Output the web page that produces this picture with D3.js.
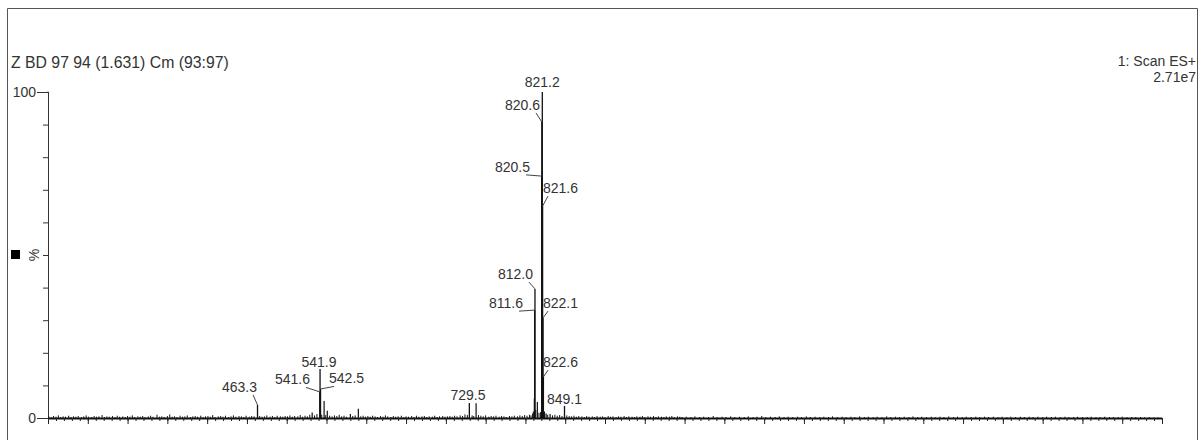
<!DOCTYPE html>
<html><head><meta charset="utf-8">
<script src="https://cdn.jsdelivr.net/npm/d3@7"></script>
<style>body{margin:0;background:#fff}svg{display:block}text{font-family:Arial,"Liberation Sans",sans-serif;fill:#333}</style>
</head><body><svg id="c" width="1201" height="440"></svg>
<script>
// ---- data ----
const titleLeft = "Z BD 97 94 (1.631) Cm (93:97)";
const titleRight = ["1: Scan ES+", "2.71e7"];
const yAxisLabel = "%";
const xDomain = [200, 1600];
const yTickLabels = [0, 100];
// labelled peaks: m/z, relative intensity (%)
const peakMz  = [463.3, 541.6, 541.9, 542.5, 729.5, 811.6, 812.0, 820.5, 820.6, 821.2, 821.6, 822.1, 822.6, 849.1];
const peakPct = [4.0,   8.0,   15.0,  8.9,   4.6,   33.1,  39.6,  74.2,  90.8,  100,   65.0,  30.7,  12.6,  3.7];
// label placement in data units: anchor side, label m/z, label baseline %
const labelSide = ["end","end","middle","start","middle","end","end","end","end","middle","start","start","start","middle"];
const labelMz   = [462.7, 529.3, 540.6, 553.2, 727.8, 797.0, 809.5, 805.8, 818.3, 821.2, 822.1, 822.1, 822.1, 849.1];
const labelPct  = [8.0,   10.3,  15.6,  10.6,  5.5,   33.7,  42.6,  75.5,  94.5,  101.5, 69.0,  33.7,  15.6,  4.3];
// other visible unlabelled peaks
const minorPeaks = [[532,1.7],[547,5.2],[551,2.2],[580,1.2],[590,2.8],[738,4.5],[815,4.9],[811.2,6.0],[826,1.4],[831,1.2]];
// baseline noise (m/z, %)
const noisePeaks = [[201,0.5],[204,0.3],[207,0.6],[210,0.4],[213,0.8],[216,0.3],[219,0.5],[222,0.4],[226,0.7],[229,0.3],[232,0.5],[235,0.4],[238,0.6],[242,0.3],[245,0.5],[248,0.8],[251,0.4],[255,0.3],[258,0.6],[261,0.4],[264,0.5],[268,0.9],[271,0.3],[274,0.5],[277,0.4],[281,0.6],[284,0.3],[287,0.7],[290,0.4],[294,0.5],[297,0.3],
[300,0.6],[303,0.4],[306,0.8],[309,0.3],[313,0.5],[316,0.4],[319,0.6],[322,0.3],[326,0.5],[329,0.7],[332,0.4],[337,1.0],[340,0.4],[343,0.5],[346,0.3],[350,0.6],[353,1.1],[356,0.4],[359,0.5],[362,0.3],[366,0.7],[369,0.4],[372,0.5],[375,0.8],[379,0.3],[382,0.5],[385,0.6],[388,0.4],[392,0.7],[395,0.3],[398,0.5],
[401,0.6],[404,0.4],[407,0.9],[410,0.3],[414,0.5],[417,0.6],[420,0.4],[423,0.7],[427,0.3],[430,0.5],[433,0.8],[436,0.4],[440,0.6],[443,0.5],[446,0.3],[449,0.7],[453,0.4],[456,0.6],[459,0.5],[466,0.6],[469,0.4],[472,0.5],[475,0.8],[479,0.4],[482,0.6],[485,0.3],[488,0.7],[492,0.5],[495,0.4],[498,0.6],
[501,0.5],[504,0.8],[507,0.4],[510,0.6],[514,0.5],[517,0.9],[520,0.4],[523,0.7],[526,0.5],[529,1.0],[535,0.8],[538,1.2],[544,1.0],[549,0.9],[554,0.7],[557,0.5],[560,0.8],[563,0.6],[566,1.0],[569,0.5],[572,0.7],[575,0.4],[583,0.6],[586,0.8],[593,0.5],[596,0.7],[599,0.4],
[602,0.6],[605,0.4],[608,0.7],[611,0.5],[614,0.3],[618,0.6],[621,0.4],[624,0.8],[627,0.5],[631,0.3],[634,0.6],[637,0.4],[640,0.5],[644,0.7],[647,0.3],[650,0.5],[653,0.4],[657,0.6],[660,0.3],[663,0.7],[666,0.4],[670,0.5],[673,0.6],[676,0.3],[679,0.5],[683,0.4],[686,0.7],[689,0.3],[692,0.5],[696,0.6],[699,0.4],
[702,0.5],[705,0.6],[708,0.4],[711,0.7],[714,0.5],[718,0.8],[721,0.6],[724,1.1],[727,0.9],[733,0.8],[735,0.6],[741,0.9],[744,0.7],[747,0.5],[750,0.8],[754,0.4],[757,0.6],[760,0.5],[763,0.7],[767,0.4],[770,0.6],[773,0.5],[776,0.3],[780,0.6],[783,0.5],[786,0.7],[790,0.5],[793,0.8],[796,0.6],[799,0.9],
[802,0.7],[805,1.0],[807,0.8],[809,1.4],[810,2.0],[813,2.5],[817,1.6],[819,1.8],[824,2.0],[828,1.0],[834,0.8],[837,1.0],[840,0.7],[843,0.9],[846,0.6],[852,0.8],[855,0.6],[858,0.5],
[861,0.7],[864,0.4],[867,0.6],[871,0.5],[874,0.3],[877,0.6],[880,0.4],[884,0.5],[887,0.3],[890,0.6],[894,0.4],[897,0.5],[900,0.3],[904,0.6],[907,0.4],[910,0.5],[914,0.3],[917,0.5],[920,0.4],[924,0.6],[927,0.3],[930,0.5],[934,0.4],[937,0.3],[940,0.5],[944,0.4],[947,0.6],[950,0.3],[954,0.5],[957,0.4],[961,0.6],[964,0.3],[967,0.5],[971,0.4],[974,0.3],[977,0.5],[981,0.4],[984,0.6],[987,0.3],[991,0.5],[994,0.4],[997,0.3],
[1002,0.4],[1008,0.3],[1013,0.5],[1019,0.3],[1024,0.4],[1030,0.3],[1036,0.6],[1041,0.3],[1047,0.4],[1052,0.3],[1058,0.5],[1063,0.3],[1069,0.4],[1075,0.3],[1080,0.5],[1086,0.3],[1091,0.4],[1097,0.6],[1102,0.3],[1108,0.4],[1114,0.3],[1119,0.5],[1125,0.3],[1130,0.4],[1136,0.3],[1142,0.4],[1147,0.3],[1153,0.5],[1158,0.3],[1164,0.4],[1170,0.3],[1175,0.4],[1181,0.3],[1186,0.5],[1192,0.3],[1198,0.4],
[1203,0.3],[1209,0.4],[1214,0.3],[1220,0.5],[1226,0.3],[1231,0.4],[1237,0.3],[1242,0.4],[1248,0.3],[1254,0.5],[1259,0.3],[1265,0.4],[1270,0.3],[1276,0.4],[1282,0.3],[1287,0.5],[1293,0.3],[1298,0.4],[1304,0.3],[1310,0.4],[1315,0.3],[1321,0.4],[1326,0.3],[1332,0.5],[1338,0.3],[1343,0.4],[1349,0.3],[1354,0.4],[1360,0.3],[1366,0.4],[1371,0.3],[1377,0.4],[1382,0.3],[1388,0.4],[1394,0.3],[1399,0.4],
[1405,0.3],[1410,0.4],[1416,0.3],[1422,0.4],[1427,0.3],[1433,0.4],[1438,0.3],[1444,0.4],[1450,0.3],[1455,0.4],[1461,0.3],[1466,0.4],[1472,0.3],[1478,0.4],[1483,0.3],[1489,0.3],[1494,0.4],[1500,0.3],[1506,0.3],[1511,0.4],[1517,0.3],[1522,0.3],[1528,0.4],[1534,0.3],[1539,0.3],[1545,0.3],[1550,0.4],[1556,0.3],[1562,0.3],[1567,0.3],[1573,0.3],[1578,0.2],[1584,0.3],[1590,0.2],[1595,0.2]];

// ---- drawing ----
const svg = d3.select("#c");
const W = 1201, H = 440;
svg.append("rect").attr("width", W).attr("height", H).attr("fill", "#fff");
svg.append("path").attr("d", "M7.5,440V8.5H1197.5V440").attr("fill", "none").attr("stroke", "#555").attr("stroke-width", 1);

const x = d3.scaleLinear().domain(xDomain).range([48, 1162]);
const y = d3.scaleLinear().domain([0, 100]).range([418, 92]);

// title texts
svg.append("text").attr("x", 11).attr("y", 68).style("font-size", "15.8px").text(titleLeft);
svg.append("text").attr("x", 1196).attr("y", 66).attr("text-anchor", "end").style("font-size", "14px").text(titleRight[0]);
svg.append("text").attr("x", 1196).attr("y", 82).attr("text-anchor", "end").style("font-size", "14px").text(titleRight[1]);

// y axis
const yMinor = svg.append("g").attr("transform", "translate(48,0)")
  .call(d3.axisLeft(y).tickValues(d3.range(0, 101, 10)).tickSize(5).tickFormat(""));
const yMajor = svg.append("g").attr("transform", "translate(48,0)")
  .call(d3.axisLeft(y).tickValues(yTickLabels).tickSize(11).tickPadding(1).tickFormat(d3.format("d")));
yMajor.select(".domain").remove();
[yMinor, yMajor].forEach(g => {
  g.selectAll("line").attr("stroke", "#333");
  g.selectAll(".domain").attr("stroke", "#333");
  g.selectAll("text").style("font-size", "14px").style("font-family", "Arial, 'Liberation Sans', sans-serif").attr("fill", "#333");
});
yMinor.select(".domain").attr("d", `M-0.5,${y(100)}H0.5V${y(0)}`);

// y label with marker
svg.append("rect").attr("x", 11).attr("y", y(50) - 5).attr("width", 9).attr("height", 9).attr("fill", "#000");
svg.append("text").attr("transform", `translate(39,${y(50)}) rotate(-90)`).attr("text-anchor", "middle")
  .style("font-size", "14px").text(yAxisLabel);

// x axis
const xMinor = svg.append("g").attr("transform", "translate(0,418)")
  .call(d3.axisBottom(x).tickValues(d3.range(xDomain[0], xDomain[1] + 1, 10)).tickSize(3).tickFormat(""));
const xMajor = svg.append("g").attr("transform", "translate(0,418)")
  .call(d3.axisBottom(x).tickValues(d3.range(xDomain[0], xDomain[1] + 1, 50)).tickSize(6).tickFormat(""));
xMajor.select(".domain").remove();
xMinor.select(".domain").attr("d", `M${x(xDomain[0])},0.5H${x(xDomain[1])}`).attr("stroke", "#111").attr("stroke-width", 2);
[xMinor, xMajor].forEach(g => g.selectAll("line").attr("stroke", "#222"));

// spectrum sticks
const plot = svg.append("g");
plot.selectAll("line.noise").data(noisePeaks).join("line").attr("class", "noise")
  .attr("x1", d => x(d[0])).attr("x2", d => x(d[0]))
  .attr("y1", y(0)).attr("y2", d => y(d[1]))
  .attr("stroke", "#111").attr("stroke-width", 1);
plot.selectAll("line.minor").data(minorPeaks).join("line").attr("class", "minor")
  .attr("x1", d => x(d[0])).attr("x2", d => x(d[0]))
  .attr("y1", y(0)).attr("y2", d => y(d[1]))
  .attr("stroke", "#111").attr("stroke-width", 1.2);
const peaks = peakMz.map((m, i) => ({mz: m, pct: peakPct[i], side: labelSide[i], lmz: labelMz[i], lpct: labelPct[i]}));
plot.selectAll("line.peak").data(peaks).join("line").attr("class", "peak")
  .attr("x1", d => x(d.mz)).attr("x2", d => x(d.mz))
  .attr("y1", y(0)).attr("y2", d => y(d.pct))
  .attr("stroke", "#111").attr("stroke-width", 1.3);

// labels + connectors
const lab = svg.append("g");
peaks.forEach(d => {
  lab.append("text").attr("x", x(d.lmz)).attr("y", y(d.lpct))
    .attr("text-anchor", d.side).style("font-size", "14px").text(d.mz.toFixed(1));
  const px = x(d.mz), py = y(d.pct);
  if (d.side === "end") {
    lab.append("line").attr("x1", x(d.lmz) - 4).attr("y1", y(d.lpct) + 3).attr("x2", px).attr("y2", py)
      .attr("stroke", "#444").attr("stroke-width", 1);
  } else if (d.side === "start") {
    lab.append("line").attr("x1", px).attr("y1", py).attr("x2", x(d.lmz) + 5).attr("y2", y(d.lpct) + 3)
      .attr("stroke", "#444").attr("stroke-width", 1);
  }
});
</script></body></html>
